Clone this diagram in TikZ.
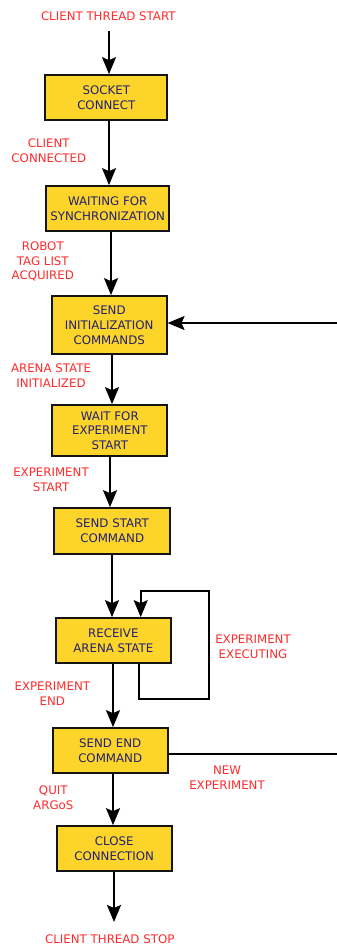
\documentclass[tikz,border=0pt]{standalone}
\usepackage{fontspec}
\setmainfont{DejaVu Sans}
\usetikzlibrary{arrows.meta}
\definecolor{boxfill}{HTML}{FDD42A}
\definecolor{boxtext}{HTML}{202070}
\definecolor{evtred}{HTML}{FF2A2A}
\definecolor{edge}{HTML}{141414}
\tikzset{
  state/.style={draw=edge, line width=1.7pt, fill=boxfill, text=boxtext,
    align=center, inner sep=0pt, font=\fontsize{11.8}{14.8}\selectfont},
  event/.style={text=evtred, align=center, inner sep=0pt,
    font=\fontsize{11.8}{14.8}\selectfont},
  arr/.style={draw=black, line width=1.8pt,
    -{Stealth[length=17pt,width=14pt,inset=3pt]}},
  plain/.style={draw=black, line width=1.6pt},
}
\begin{document}
\begin{tikzpicture}[x=1pt,y=-1pt]
\useasboundingbox (0,0) rectangle (337,945);

% states
\node[state, minimum width=122pt, minimum height=45pt] (b1) at (106.3,97.5) {SOCKET\\CONNECT};
\node[state, minimum width=123pt, minimum height=45pt] (b2) at (107.7,208.5) {WAITING FOR\\SYNCHRONIZATION};
\node[state, minimum width=115pt, minimum height=58pt] (b3) at (109.2,325) {SEND\\INITIALIZATION\\COMMANDS};
\node[state, minimum width=115pt, minimum height=51pt] (b4) at (109.8,430.5) {WAIT FOR\\EXPERIMENT\\START};
\node[state, minimum width=116pt, minimum height=46pt] (b5) at (112.2,531) {SEND START\\COMMAND};
\node[state, minimum width=115pt, minimum height=45pt] (b6) at (113.3,640.5) {RECEIVE\\ARENA STATE};
\node[state, minimum width=115pt, minimum height=45pt] (b7) at (110.2,750.5) {SEND END\\COMMAND};
\node[state, minimum width=115pt, minimum height=45pt] (b8) at (114.2,848.5) {CLOSE\\CONNECTION};

% events
\node[event] (eStart) at (108.3,16.5) {CLIENT THREAD START};
\node[event] (eConn) at (48.8,150.5) {CLIENT\\CONNECTED};
\node[event] (eTags) at (42.8,261.5) {ROBOT\\TAG LIST\\ACQUIRED};
\node[event] (eInit) at (51,375.5) {ARENA STATE\\INITIALIZED};
\node[event] (eExpS) at (51,480) {EXPERIMENT\\START};
\node[event] (eExec) at (253,646.5) {EXPERIMENT\\EXECUTING};
\node[event] (eEnd) at (52.3,693.5) {EXPERIMENT\\END};
\node[event] (eNew) at (227,777.5) {NEW\\EXPERIMENT};
\node[event] (eQuit) at (53.3,798) {QUIT\\ARGoS};
\node[event] (eStop) at (109.8,939.5) {CLIENT THREAD STOP};

% connector columns and corners
\coordinate (top) at (109,31);
\coordinate (c12) at (109,0);
\coordinate (c23) at (111,0);
\coordinate (c34) at (112,0);
\coordinate (c45) at (110,0);
\coordinate (c56) at (112,0);
\coordinate (c67) at (113,0);
\coordinate (c78) at (113,0);
\coordinate (bottom) at (114,922);
\coordinate (rin) at (337,323);
\coordinate (rout) at (337,754);
\coordinate (lpA) at (139.3,699);
\coordinate (lpB) at (209,699);
\coordinate (lpC) at (209,590.7);
\coordinate (lpD) at (140.7,590.7);

% transitions
\draw[arr] (top) -- (top |- b1.north);
\draw[arr] (b1.south -| c12) -- (b2.north -| c12);
\draw[arr] (b2.south -| c23) -- (b3.north -| c23);
\draw[arr] (b3.south -| c34) -- (b4.north -| c34);
\draw[arr] (b4.south -| c45) -- (b5.north -| c45);
\draw[arr] (b5.south -| c56) -- (b6.north -| c56);
\draw[arr] (b6.south -| c67) -- (b7.north -| c67);
\draw[arr] (b7.south -| c78) -- (b8.north -| c78);
\draw[arr] (b8.south -| bottom) -- (bottom);

% self loop while the experiment runs
\draw[arr] (b6.south -| lpA) -- (lpA) -- (lpB) -- (lpC) -- (lpD) -- (b6.north -| lpD);

% new experiment path back to initialization
\draw[plain] (b7.east |- rout) -- (rout);
\draw[arr] (rin) -- (rin -| b3.east);
\end{tikzpicture}
\end{document}
